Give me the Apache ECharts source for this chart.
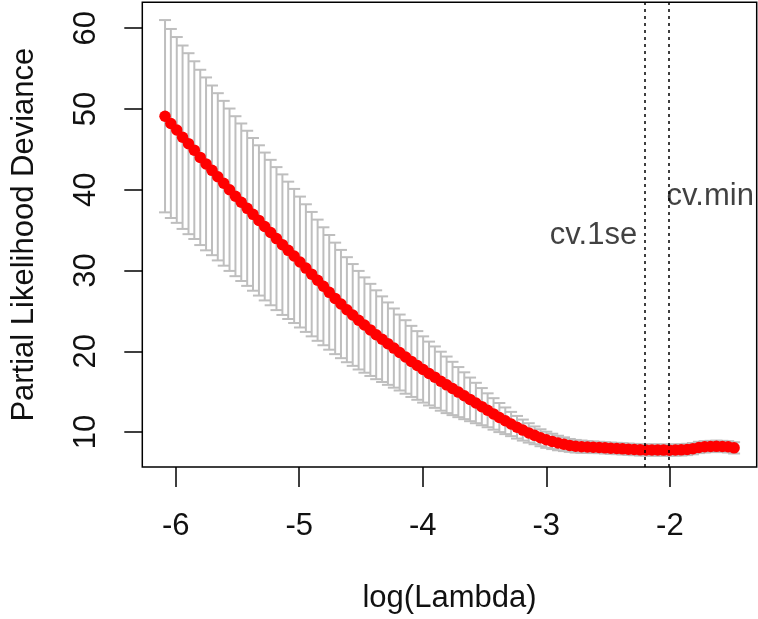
<!DOCTYPE html>
<html>
<head>
<meta charset="utf-8">
<script src="https://cdn.jsdelivr.net/npm/echarts@6.0.0/dist/echarts.min.js"></script>
<style>
html,body{margin:0;padding:0;background:#fff;}
#chart{width:758px;height:619px;}
</style>
</head>
<body>
<div id="chart"></div>
<script>
// log(lambda) values
var logLambda = [
-6.086,-6.039,-5.991,-5.944,-5.896,-5.849,-5.801,-5.754,-5.706,-5.659,
-5.611,-5.564,-5.516,-5.469,-5.421,-5.374,-5.326,-5.279,-5.231,-5.184,
-5.136,-5.089,-5.041,-4.994,-4.946,-4.899,-4.851,-4.804,-4.757,-4.709,
-4.662,-4.614,-4.567,-4.519,-4.472,-4.424,-4.377,-4.329,-4.282,-4.234,
-4.187,-4.139,-4.092,-4.044,-3.997,-3.949,-3.902,-3.854,-3.807,-3.759,
-3.712,-3.664,-3.617,-3.570,-3.522,-3.475,-3.427,-3.380,-3.332,-3.285,
-3.237,-3.190,-3.142,-3.095,-3.047,-3.000,-2.952,-2.905,-2.857,-2.810,
-2.762,-2.715,-2.667,-2.620,-2.572,-2.525,-2.478,-2.430,-2.383,-2.335,
-2.288,-2.240,-2.193,-2.145,-2.098,-2.050,-2.003,-1.955,-1.908,-1.860,
-1.813,-1.765,-1.718,-1.670,-1.623,-1.575,-1.528,-1.480
];
// mean cross-validated partial likelihood deviance
var cvm = [
49.1,48.2,47.4,46.5,45.7,44.9,44.0,43.2,42.4,41.6,
40.8,40.0,39.2,38.45,37.7,36.95,36.2,35.45,34.7,33.95,
33.2,32.5,31.8,31.05,30.3,29.55,28.8,28.05,27.3,26.55,
25.85,25.15,24.5,23.85,23.25,22.65,22.05,21.5,20.95,20.4,
19.85,19.3,18.75,18.25,17.75,17.25,16.8,16.3,15.85,15.4,
14.95,14.5,14.05,13.6,13.15,12.7,12.25,11.8,11.4,11.0,
10.6,10.25,9.9,9.6,9.3,9.05,8.85,8.65,8.5,8.35,
8.25,8.2,8.15,8.12,8.1,8.05,8.0,7.97,7.93,7.88,
7.84,7.8,7.79,7.78,7.78,7.77,7.76,7.78,7.8,7.85,
7.95,8.1,8.18,8.22,8.24,8.22,8.18,8.05
];
// standard error of the CV deviance
var cvsd = [
11.9,11.7,11.5,11.35,11.2,11.0,10.85,10.7,10.5,10.35,
10.2,10.05,9.9,9.75,9.6,9.45,9.3,9.15,9.0,8.85,
8.7,8.5,8.3,8.1,7.9,7.7,7.5,7.3,7.1,6.9,
6.7,6.5,6.3,6.1,5.9,5.7,5.5,5.3,5.1,4.9,
4.7,4.55,4.4,4.25,4.1,3.95,3.8,3.65,3.5,3.3,
3.1,2.9,2.7,2.5,2.3,2.1,1.95,1.8,1.65,1.5,
1.4,1.3,1.2,1.1,1.05,1.0,0.95,0.9,0.85,0.8,
0.78,0.76,0.74,0.72,0.7,0.7,0.7,0.7,0.7,0.7,
0.7,0.7,0.7,0.7,0.7,0.7,0.7,0.7,0.7,0.7,
0.7,0.7,0.7,0.7,0.7,0.7,0.7,0.7
];
var xTicks = [-6,-5,-4,-3,-2];
var yTicks = [10,20,30,40,50,60];
var lambda1seLog = -2.200;
var lambdaMinLog = -2.010;
var labels = ['cv.1se','cv.min'];

var pts = logLambda.map(function(x,i){return [x, cvm[i]];});
var bars = logLambda.map(function(x,i){return [x, cvm[i]+cvsd[i], cvm[i]-cvsd[i]];});

var FONT = '"Liberation Sans", Arial, sans-serif';
var FS = 31;
var chart = echarts.init(document.getElementById('chart'), null, {renderer:'canvas'});
chart.setOption({
  animation:false,
  backgroundColor:'#ffffff',
  grid:{left:142.3, right:1.3, top:2.3, bottom:150.7, show:true, borderColor:'#000', borderWidth:1.5, backgroundColor:'transparent'},
  xAxis:{
    type:'value', min:-6.27, max:-1.297,
    name:'log(Lambda)', nameLocation:'middle', nameGap:116,
    nameTextStyle:{fontFamily:FONT, fontSize:FS, color:'#111'},
    axisLine:{show:false},
    splitLine:{show:false},
    axisTick:{show:true, length:20, lineStyle:{color:'#000', width:1.5}, customValues:xTicks},
    axisLabel:{fontFamily:FONT, fontSize:FS, color:'#111', margin:44, customValues:xTicks}
  },
  yAxis:{
    type:'value', min:5.68, max:63.2,
    name:'Partial Likelihood Deviance', nameLocation:'middle', nameGap:102,
    nameTextStyle:{fontFamily:FONT, fontSize:FS, color:'#111'},
    axisLine:{show:false},
    splitLine:{show:false},
    axisTick:{show:true, length:18, lineStyle:{color:'#000', width:1.5}, customValues:yTicks},
    axisLabel:{fontFamily:FONT, fontSize:FS, color:'#111', margin:40, rotate:90, customValues:yTicks}
  },
  series:[
    {
      type:'custom', z:1, data:bars,
      renderItem:function(params, api){
        var x = api.value(0);
        var top = api.coord([x, api.value(1)]);
        var bot = api.coord([x, api.value(2)]);
        var w = 6;
        var st = {stroke:'#bebebe', lineWidth:2};
        return {type:'group', children:[
          {type:'line', shape:{x1:top[0], y1:top[1], x2:bot[0], y2:bot[1]}, style:st},
          {type:'line', shape:{x1:top[0]-w, y1:top[1], x2:top[0]+w, y2:top[1]}, style:st},
          {type:'line', shape:{x1:bot[0]-w, y1:bot[1], x2:bot[0]+w, y2:bot[1]}, style:st}
        ]};
      }
    },
    {
      type:'scatter', z:2, data:pts, symbol:'circle', symbolSize:11.5,
      itemStyle:{color:'#ff0000', opacity:1}
    },
    {
      type:'scatter', z:3, symbolSize:0,
      data:[
        {value:[lambda1seLog, 34.3], label:{show:true, formatter:labels[0], position:'left', distance:8}},
        {value:[lambdaMinLog, 39.2], label:{show:true, formatter:labels[1], position:'right', distance:-2}}
      ],
      label:{fontFamily:FONT, fontSize:FS, color:'#111'},
      markLine:{
        silent:true, symbol:'none', animation:false,
        lineStyle:{color:'#000', width:1.5, type:[3,4]},
        label:{show:false},
        data:[{xAxis:lambda1seLog},{xAxis:lambdaMinLog}]
      }
    }
  ]
});
</script>
</body>
</html>
